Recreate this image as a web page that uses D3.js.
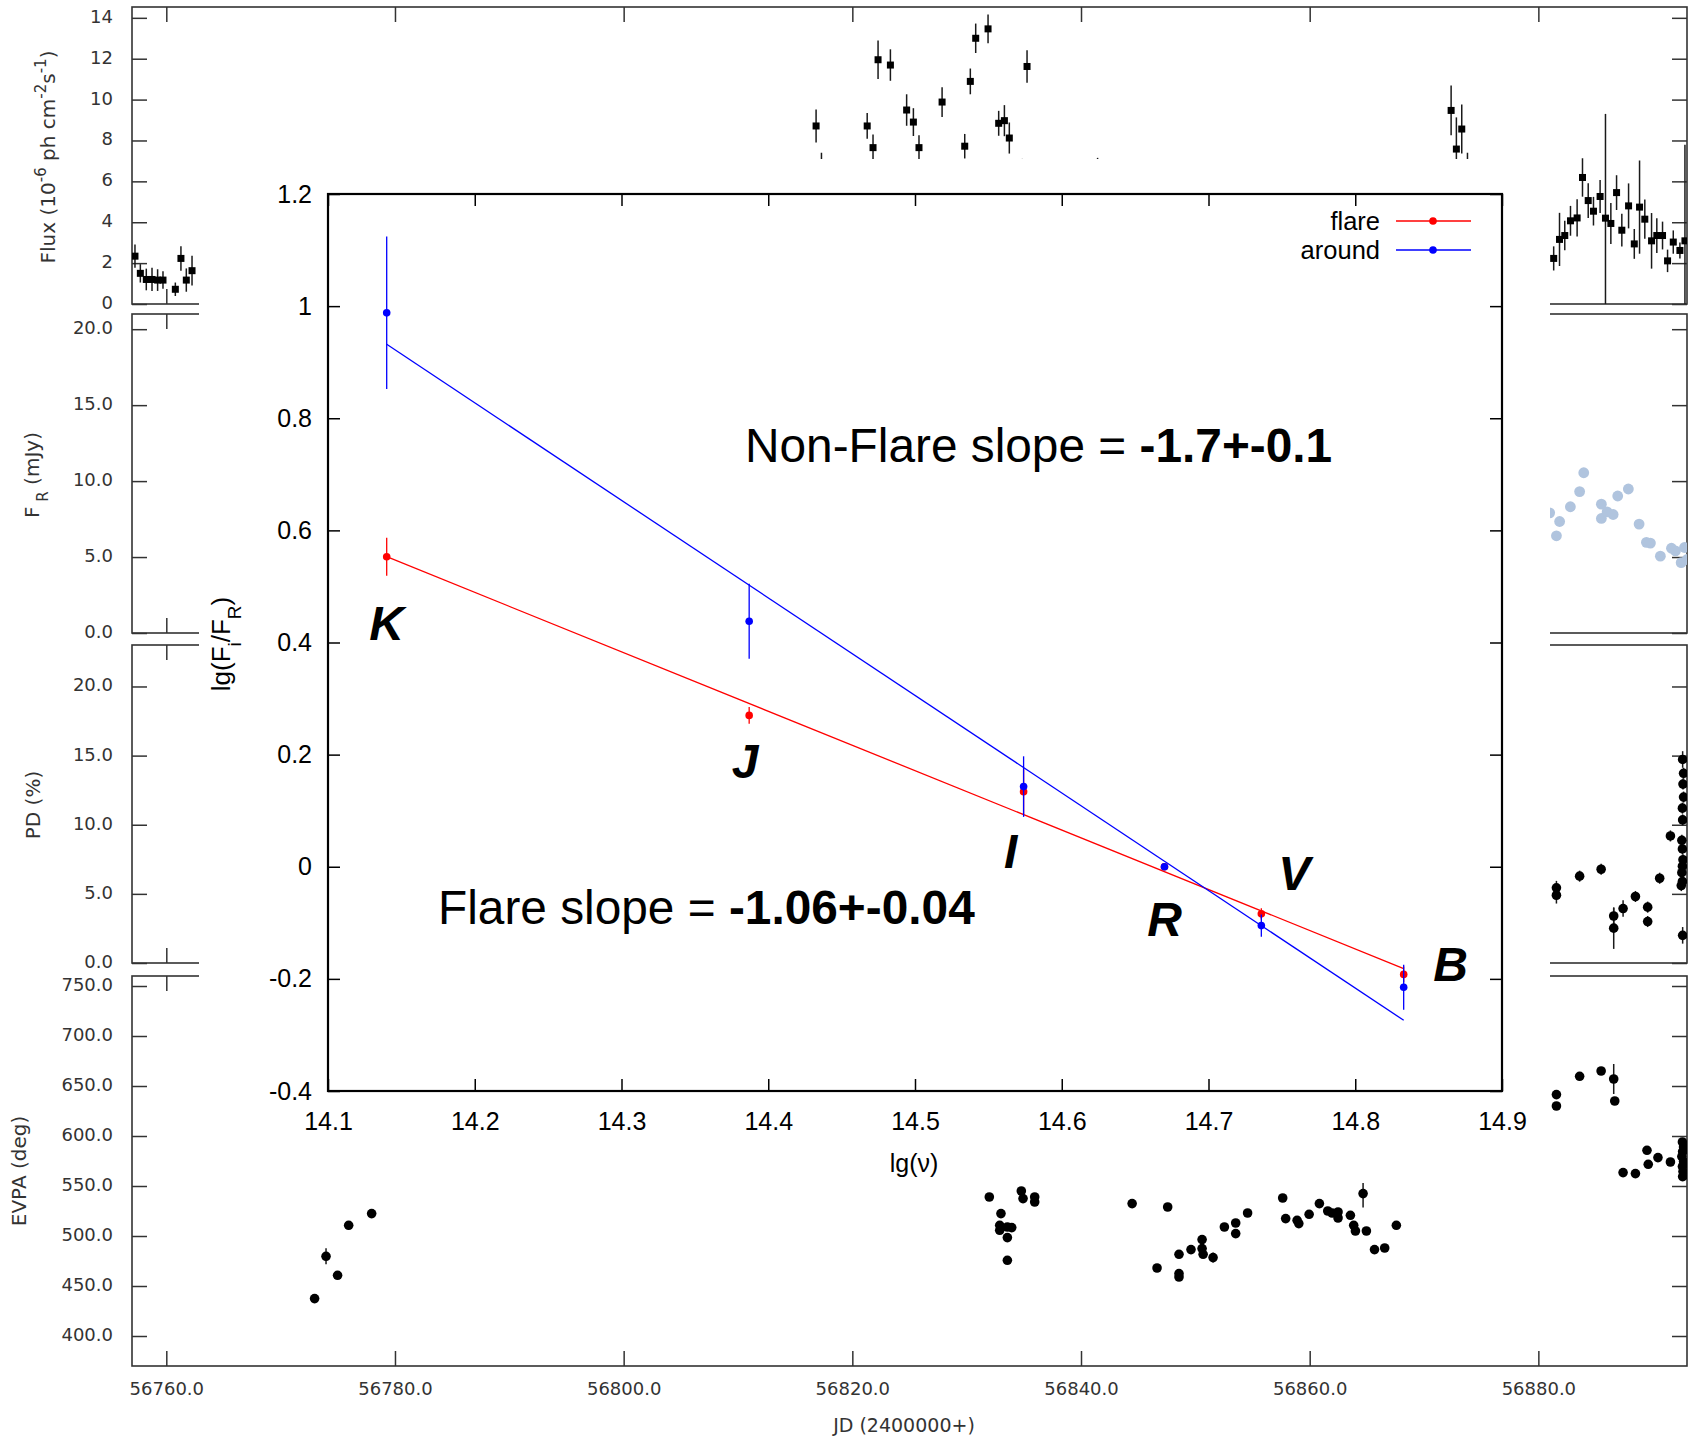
<!DOCTYPE html>
<html>
<head>
<meta charset="utf-8">
<script src="https://cdn.jsdelivr.net/npm/d3@7"></script>
<style>
  body { margin: 0; background: #fff; }
  svg { display: block; }
</style>
</head>
<body>
<svg id="chart" width="1692" height="1441"></svg>
<script>
// ---------- tick values ----------
const jdTicks    = [56760, 56780, 56800, 56820, 56840, 56860, 56880];
const fluxTicks  = [0, 2, 4, 6, 8, 10, 12, 14];
const frTicks    = [0, 5, 10, 15, 20];
const pdTicks    = [0, 5, 10, 15, 20];
const evpaTicks  = [400, 450, 500, 550, 600, 650, 700, 750];
const lgNuTicks  = [14.1, 14.2, 14.3, 14.4, 14.5, 14.6, 14.7, 14.8, 14.9];
const ratioTicks = [-0.4, -0.2, 0, 0.2, 0.4, 0.6, 0.8, 1, 1.2];

// ---------- gamma-ray flux: [JD-2400000, flux (1e-6 ph cm^-2 s^-1), error] ----------
const fluxData = [
  [56757.26, 2.34, 0.57], [56757.73, 1.50, 0.45], [56758.25, 1.20, 0.53],
  [56758.75, 1.20, 0.57], [56759.24, 1.17, 0.53], [56759.71, 1.17, 0.43],
  [56760.79, 0.72, 0.33], [56761.28, 2.23, 0.60], [56761.75, 1.17, 0.57],
  [56762.25, 1.63, 0.73],
  [56816.83, 8.71, 0.81], [56817.30, 6.40, 1.00], [56821.30, 8.71, 0.63],
  [56821.81, 7.65, 0.64], [56822.25, 11.95, 0.94], [56823.33, 11.69, 0.77],
  [56824.75, 9.49, 0.77], [56825.34, 8.90, 0.68], [56825.83, 7.65, 0.60],
  [56827.85, 9.88, 0.73], [56829.83, 7.72, 0.60], [56830.32, 10.89, 0.63],
  [56830.79, 13.00, 0.72], [56831.87, 13.46, 0.70], [56832.80, 8.84, 0.61],
  [56833.30, 8.97, 0.76], [56833.73, 8.12, 0.76], [56834.87, 6.60, 0.50],
  [56835.28, 11.62, 0.79], [56841.45, 6.50, 0.65],
  [56872.37, 9.47, 1.22], [56872.83, 7.58, 1.55], [56873.30, 8.56, 1.20],
  [56873.80, 6.20, 1.20],
  [56881.34, 2.23, 0.59], [56881.85, 3.16, 1.30], [56882.31, 3.35, 0.72],
  [56882.81, 4.07, 0.73], [56883.39, 4.21, 0.91], [56883.86, 6.19, 0.94],
  [56884.36, 5.06, 0.85], [56884.82, 4.54, 0.70], [56885.40, 5.26, 0.81],
  [56885.87, 4.20, 5.10], [56886.34, 3.94, 1.00], [56886.84, 5.45, 0.85],
  [56887.30, 3.61, 0.80], [56887.89, 4.80, 1.10], [56888.39, 2.94, 0.73],
  [56888.85, 4.74, 2.28], [56889.31, 4.15, 0.96], [56889.90, 3.09, 1.36],
  [56890.36, 3.35, 0.85], [56890.86, 3.35, 0.68], [56891.30, 2.11, 0.55],
  [56891.80, 3.03, 0.57], [56892.38, 2.62, 0.39], [56892.82, 3.09, 4.70]
];

// ---------- optical R-band flux: [JD, F_R (mJy)] ----------
const frData = [
  [56880.99, 7.91], [56881.58, 6.40], [56881.86, 7.34], [56882.80, 8.31],
  [56883.61, 9.31], [56883.97, 10.55], [56885.51, 8.48], [56885.51, 7.54],
  [56886.01, 7.97], [56886.54, 7.80], [56886.94, 9.02], [56887.87, 9.48],
  [56888.81, 7.17], [56889.45, 5.97], [56889.80, 5.92], [56890.67, 5.06],
  [56891.64, 5.58], [56891.99, 5.41], [56892.49, 4.63], [56892.78, 5.63],
  [56893.01, 4.84]
];

// ---------- polarization degree: [JD, PD (%), error] ----------
const pdData = [
  [56881.58, 5.44, 0.5], [56881.58, 4.90, 0.6], [56883.61, 6.28, 0.4],
  [56885.49, 6.78, 0.4], [56886.59, 3.40, 0.6], [56886.59, 2.52, 1.5],
  [56887.41, 3.94, 0.6], [56888.49, 4.81, 0.4], [56889.56, 4.04, 0.4],
  [56889.56, 3.00, 0.4], [56890.61, 6.13, 0.4], [56891.55, 9.19, 0.4],
  [56892.62, 14.72, 0.6], [56892.70, 13.72, 0.4], [56892.65, 12.94, 0.4],
  [56892.70, 12.00, 0.4], [56892.60, 11.20, 0.4], [56892.62, 10.35, 0.4],
  [56892.55, 8.87, 0.4], [56892.60, 8.25, 0.4], [56892.65, 7.47, 0.4],
  [56892.60, 7.00, 0.4], [56892.55, 6.53, 0.4], [56892.60, 5.90, 0.4],
  [56892.50, 5.60, 0.4], [56892.62, 2.00, 0.6]
];

// ---------- polarization angle: [JD, EVPA (deg), error] ----------
const evpaData = [
  [56772.97, 437.4, 3], [56773.97, 479.7, 8], [56774.98, 460.7, 3],
  [56775.95, 510.7, 4], [56777.96, 522.4, 3],
  [56831.98, 539.0, 3], [56833.00, 522.4, 3], [56832.89, 510.7, 3],
  [56832.89, 505.7, 3], [56833.56, 509.0, 3], [56833.94, 508.4, 3],
  [56833.56, 498.4, 3], [56833.56, 475.7, 3], [56834.78, 545.0, 3],
  [56834.93, 537.4, 3], [56835.95, 539.0, 3], [56835.95, 534.0, 3],
  [56844.47, 532.4, 3], [56847.58, 529.0, 3], [56846.65, 468.0, 3],
  [56848.57, 481.7, 3], [56848.57, 462.4, 3], [56848.57, 459.0, 3],
  [56849.62, 486.4, 3], [56850.59, 496.4, 4], [56850.59, 487.4, 3],
  [56850.68, 481.7, 3], [56851.55, 478.4, 5], [56852.54, 509.0, 3],
  [56853.53, 513.0, 3], [56853.53, 502.4, 3], [56854.57, 523.0, 3],
  [56857.64, 538.0, 3], [56857.90, 517.4, 3], [56858.90, 515.7, 3],
  [56859.05, 512.4, 3], [56859.95, 521.7, 3], [56860.85, 532.4, 3],
  [56861.58, 525.0, 3], [56861.96, 523.0, 3], [56862.48, 524.0, 3],
  [56862.48, 518.0, 3], [56863.56, 520.7, 3], [56863.85, 510.7, 3],
  [56864.00, 505.0, 3], [56864.67, 542.4, 14], [56864.96, 505.0, 3],
  [56865.67, 486.4, 3], [56866.56, 488.0, 3], [56867.58, 510.7, 3],
  [56869.60, 560.0, 6],
  [56881.58, 641.4, 3], [56881.58, 630.0, 3], [56883.61, 659.7, 3],
  [56885.49, 665.0, 3], [56886.59, 657.0, 15], [56886.68, 635.0, 3],
  [56887.41, 563.4, 3], [56888.49, 562.4, 3], [56889.50, 585.7, 3],
  [56889.61, 571.7, 3], [56890.46, 578.4, 3], [56891.55, 574.0, 3],
  [56892.60, 594.0, 4], [56892.70, 589.0, 3], [56892.62, 584.4, 3],
  [56892.55, 579.4, 3], [56892.70, 574.4, 3], [56892.60, 569.4, 3],
  [56892.65, 564.4, 3], [56892.62, 559.4, 3]
];

// ---------- spectral shape: ratio of band flux to R-band flux ----------
const bands      = ["K", "J", "I", "R", "V", "B"];
const lgNu       = [14.14, 14.387, 14.574, 14.67, 14.736, 14.833];
const flareRatio = [0.553, 0.270, 0.134, 0.0, -0.084, -0.192];
const flareErr   = [0.034, 0.015, 0.040, 0.0, 0.010, 0.014];
const aroundRatio = [0.988, 0.438, 0.143, 0.0, -0.105, -0.215];
const aroundErr   = [0.136, 0.067, 0.054, 0.0, 0.020, 0.040];
// linear fits: slope and fitted value at the K band
const fitSeries = ["flare", "around"];
const fitSlope  = [-1.06, -1.74];
const fitAtK    = [0.553, 0.932];
const slopeText = ["-1.06+-0.04", "-1.7+-0.1"];

// =====================================================================
const svg = d3.select("#chart");
const bgFont = "'DejaVu Sans', sans-serif";
const fgFont = "'Liberation Sans', Arial, sans-serif";
const frameColor = "#333";

const x = d3.scaleLinear().domain([56757.0, 56893.0]).range([132, 1687]);
const X0 = 132, X1 = 1687;

const panels = [
  { key: "flux", y: d3.scaleLinear().domain([0, 14.53]).range([304, 7]),
    ticks: fluxTicks, fmt: d => String(d), data: fluxData, kind: "square" },
  { key: "fr", y: d3.scaleLinear().domain([0, 21]).range([633, 314]),
    ticks: frTicks, fmt: d3.format(".1f"), data: frData, kind: "light" },
  { key: "pd", y: d3.scaleLinear().domain([0, 23]).range([963, 645]),
    ticks: pdTicks, fmt: d3.format(".1f"), data: pdData, kind: "dot" },
  { key: "evpa", y: d3.scaleLinear().domain([370, 760]).range([1366, 976]),
    ticks: evpaTicks, fmt: d3.format(".1f"), data: evpaData, kind: "dot" }
];

const defs = svg.append("defs");
const bg = svg.append("g").attr("class", "timeseries");

function styleAxis(g, fontFamily, fontSize, color, width) {
  g.select(".domain").remove();
  g.selectAll(".tick line").attr("stroke", color).attr("stroke-width", width);
  g.selectAll(".tick text").attr("fill", color)
    .style("font-family", fontFamily).style("font-size", fontSize + "px");
}

panels.forEach((p, i) => {
  const top = p.y.range()[1], bottom = p.y.range()[0];
  const g = bg.append("g").attr("class", "panel-" + p.key);
  const last = i === panels.length - 1;

  defs.append("clipPath").attr("id", "clip-" + p.key)
    .append("rect").attr("x", X0).attr("y", top)
    .attr("width", X1 - X0).attr("height", bottom - top);

  g.append("g").attr("transform", `translate(${X0},0)`)
    .call(d3.axisLeft(p.y).tickValues(p.ticks).tickSize(-15).tickPadding(19).tickFormat(p.fmt))
    .call(a => styleAxis(a, bgFont, 18, frameColor, 1.5))
    .call(a => a.selectAll(".tick text").attr("dy", "0.25em"));
  g.append("g").attr("transform", `translate(${X1},0)`)
    .call(d3.axisRight(p.y).tickValues(p.ticks).tickSize(-15).tickFormat(""))
    .call(a => styleAxis(a, bgFont, 18, frameColor, 1.5));
  g.append("g").attr("transform", `translate(0,${top})`)
    .call(d3.axisTop(x).tickValues(jdTicks).tickSize(-15).tickFormat(""))
    .call(a => styleAxis(a, bgFont, 18, frameColor, 1.5));
  g.append("g").attr("transform", `translate(0,${bottom})`)
    .call(d3.axisBottom(x).tickValues(jdTicks).tickSize(-15).tickPadding(16)
      .tickFormat(last ? d3.format(".1f") : ""))
    .call(a => styleAxis(a, bgFont, 18, frameColor, 1.5));

  g.append("rect").attr("x", X0).attr("y", top)
    .attr("width", X1 - X0).attr("height", bottom - top)
    .attr("fill", "none").attr("stroke", frameColor).attr("stroke-width", 1.6);

  const marks = g.append("g").attr("clip-path", `url(#clip-${p.key})`);

  if (p.kind !== "light") {
    marks.selectAll("line.err").data(p.data).join("line")
      .attr("class", "err")
      .attr("x1", d => x(d[0])).attr("x2", d => x(d[0]))
      .attr("y1", d => p.y(d[1] - d[2])).attr("y2", d => p.y(d[1] + d[2]))
      .attr("stroke", "#1a1a1a").attr("stroke-width", 1.5);
  }
  if (p.kind === "square") {
    marks.selectAll("rect.pt").data(p.data).join("rect")
      .attr("class", "pt")
      .attr("x", d => x(d[0]) - 3.5).attr("y", d => p.y(d[1]) - 3.5)
      .attr("width", 7).attr("height", 7).attr("fill", "#000");
  } else if (p.kind === "light") {
    marks.selectAll("circle.pt").data(p.data).join("circle")
      .attr("class", "pt")
      .attr("cx", d => x(d[0])).attr("cy", d => p.y(d[1]))
      .attr("r", 5.4).attr("fill", "#b0c4de");
  } else {
    marks.selectAll("circle.pt").data(p.data).join("circle")
      .attr("class", "pt")
      .attr("cx", d => x(d[0])).attr("cy", d => p.y(d[1]))
      .attr("r", 4.8).attr("fill", "#000");
  }
});

// y-axis titles of the time-series panels
function vTitle(cx, cy, parts) {
  const t = bg.append("text")
    .attr("transform", `translate(${cx},${cy}) rotate(-90)`)
    .attr("text-anchor", "middle").attr("dy", "0.35em")
    .attr("fill", frameColor).style("font-family", bgFont).style("font-size", "20px");
  parts.forEach(([s, shift]) => {
    const ts = t.append("tspan").text(s);
    if (shift) ts.attr("baseline-shift", shift).style("font-size", "15px");
  });
  return t;
}
vTitle(47.5, 157, [["Flux (10"], ["-6", "super"], [" ph cm"], ["-2", "super"], ["s"], ["-1", "super"], [")"]]);
vTitle(31.5, 475, [["F"], [" R", "sub"], [" (mJy)"]]);
vTitle(32.5, 805, [["PD (%)"]]);
vTitle(18.5, 1171, [["EVPA (deg)"]]);

bg.append("text").attr("x", 904).attr("y", 1432).attr("text-anchor", "middle")
  .attr("fill", frameColor).style("font-family", bgFont).style("font-size", "19px")
  .text("JD (2400000+)");

// blank area that carries the spectral inset
svg.append("rect").attr("x", 199).attr("y", 159).attr("width", 1351).attr("height", 1024)
  .attr("fill", "#fff");

// =====================================================================
// Inset: lg(F_i/F_R) versus lg(nu)
const inset = svg.append("g").attr("class", "inset");
const ix = d3.scaleLinear().domain([14.1, 14.9]).range([328, 1502]);
const iy = d3.scaleLinear().domain([-0.4, 1.2]).range([1091, 194]);
const IX0 = 328, IX1 = 1502, IY0 = 194, IY1 = 1091;
const fmtRatio = d => String(+d.toFixed(1));

inset.append("g").attr("transform", `translate(${IX0},0)`)
  .call(d3.axisLeft(iy).tickValues(ratioTicks).tickSize(-12).tickPadding(16).tickFormat(fmtRatio))
  .call(a => styleAxis(a, fgFont, 25, "#000", 1.5));
inset.append("g").attr("transform", `translate(${IX1},0)`)
  .call(d3.axisRight(iy).tickValues(ratioTicks).tickSize(-12).tickFormat(""))
  .call(a => styleAxis(a, fgFont, 25, "#000", 1.5));
inset.append("g").attr("transform", `translate(0,${IY1})`)
  .call(d3.axisBottom(ix).tickValues(lgNuTicks).tickSize(-12).tickPadding(21).tickFormat(d3.format(".1f")))
  .call(a => styleAxis(a, fgFont, 25, "#000", 1.5));
inset.append("g").attr("transform", `translate(0,${IY0})`)
  .call(d3.axisTop(ix).tickValues(lgNuTicks).tickSize(-12).tickFormat(""))
  .call(a => styleAxis(a, fgFont, 25, "#000", 1.5));

inset.append("rect").attr("x", IX0).attr("y", IY0)
  .attr("width", IX1 - IX0).attr("height", IY1 - IY0)
  .attr("fill", "none").attr("stroke", "#000").attr("stroke-width", 2.2);

// axis titles
inset.append("text").attr("x", 914).attr("y", 1172).attr("text-anchor", "middle")
  .style("font-family", fgFont).style("font-size", "25px").text("lg(\u03bd)");
{
  const t = inset.append("text")
    .attr("transform", "translate(221,644) rotate(-90)")
    .attr("text-anchor", "middle").attr("dy", "0.35em")
    .style("font-family", fgFont).style("font-size", "26px");
  t.append("tspan").text("lg(F");
  t.append("tspan").text("i").attr("baseline-shift", "sub").style("font-size", "19px");
  t.append("tspan").text("/F");
  t.append("tspan").text("R").attr("baseline-shift", "sub").style("font-size", "19px");
  t.append("tspan").text(")");
}

const colors = ["#ff0000", "#0000ff"];
const ratios = [flareRatio, aroundRatio];
const errs   = [flareErr, aroundErr];

// fitted power laws
fitSeries.forEach((name, k) => {
  const ends = [lgNu[0], lgNu[lgNu.length - 1]]
    .map(v => [v, fitAtK[k] + fitSlope[k] * (v - lgNu[0])]);
  inset.append("path").datum(ends)
    .attr("d", d3.line().x(d => ix(d[0])).y(d => iy(d[1])))
    .attr("fill", "none").attr("stroke", colors[k]).attr("stroke-width", 1.3);
});

// measured points with error bars
fitSeries.forEach((name, k) => {
  const pts = lgNu.map((v, i) => ({ v, r: ratios[k][i], e: errs[k][i] }));
  const g = inset.append("g").attr("class", "pts-" + name);
  g.selectAll("line").data(pts.filter(d => d.e > 0)).join("line")
    .attr("x1", d => ix(d.v)).attr("x2", d => ix(d.v))
    .attr("y1", d => iy(d.r - d.e)).attr("y2", d => iy(d.r + d.e))
    .attr("stroke", colors[k]).attr("stroke-width", 1.3);
  g.selectAll("circle").data(pts).join("circle")
    .attr("cx", d => ix(d.v)).attr("cy", d => iy(d.r))
    .attr("r", 3.8).attr("fill", colors[k]);
});

// legend
fitSeries.forEach((name, k) => {
  const yy = 221 + k * 29;
  inset.append("text").attr("x", 1380).attr("y", yy).attr("dy", "0.35em")
    .attr("text-anchor", "end").style("font-family", fgFont).style("font-size", "25.5px")
    .text(name);
  inset.append("line").attr("x1", 1396).attr("x2", 1471).attr("y1", yy).attr("y2", yy)
    .attr("stroke", colors[k]).attr("stroke-width", 1.3);
  inset.append("circle").attr("cx", 1433).attr("cy", yy).attr("r", 3.8).attr("fill", colors[k]);
});

// band names next to the points
const bandLabelOffset = [[0, 83], [-4, 63], [-13, 76], [0, 69], [33, -24], [47, 7]];
inset.selectAll("text.band").data(bands).join("text")
  .attr("class", "band")
  .attr("x", (b, i) => ix(lgNu[i]) + bandLabelOffset[i][0])
  .attr("y", (b, i) => iy(flareRatio[i]) + bandLabelOffset[i][1])
  .attr("text-anchor", "middle")
  .style("font-family", fgFont).style("font-size", "48px")
  .style("font-weight", "bold").style("font-style", "italic")
  .text(b => b);

// slope annotations
function slopeNote(xp, yp, lead, value) {
  const t = inset.append("text").attr("x", xp).attr("y", yp)
    .style("font-family", fgFont).style("font-size", "47.8px");
  t.append("tspan").text(lead);
  t.append("tspan").style("font-weight", "bold").text(value);
}
slopeNote(745, 462, "Non-Flare slope = ", slopeText[1]);
slopeNote(438, 924, "Flare slope = ", slopeText[0]);
</script>
</body>
</html>
